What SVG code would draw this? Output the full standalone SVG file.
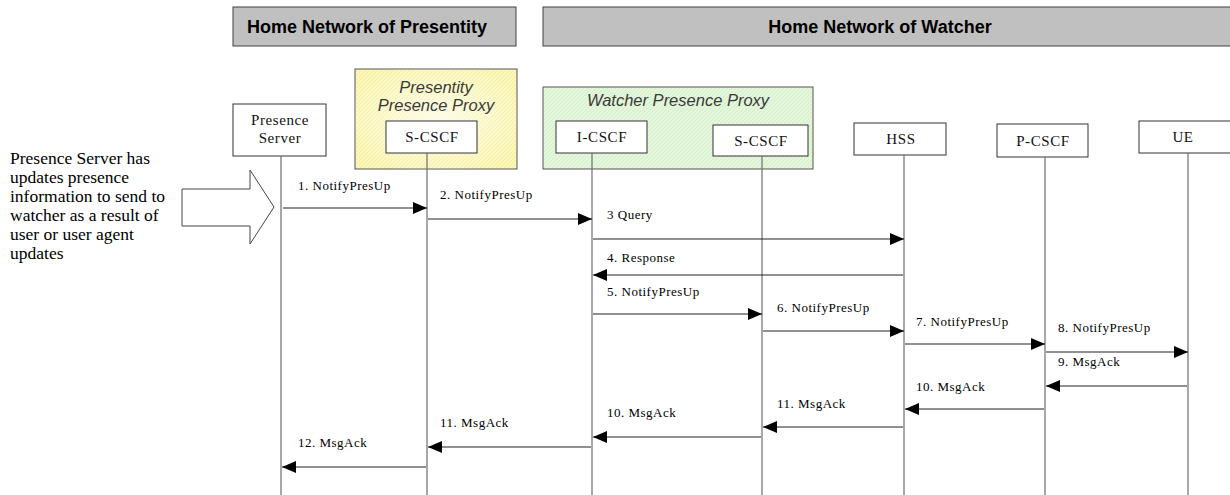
<svg xmlns="http://www.w3.org/2000/svg" width="1230" height="495" viewBox="0 0 1230 495">
  <style>
    .bar { fill: #c0c0c0; stroke: #404040; stroke-width: 1; }
    .barText { font-family: "Liberation Sans", Arial, sans-serif; font-size: 18px; font-weight: bold; fill: #000; }
    .proxyText { font-family: "Liberation Sans", Arial, sans-serif; font-size: 16.5px; font-style: italic; fill: #3a3a3a; }
    .ent { fill: #fff; stroke: #333; stroke-width: 1; }
    .entText { font-family: "Liberation Serif", "Times New Roman", serif; font-size: 15px; letter-spacing: 0.6px; fill: #111; text-anchor: middle; }
    .life { stroke: #6e6e6e; stroke-width: 1.2; fill: none; }
    .msg { stroke: #222; stroke-width: 1.2; fill: none; marker-end: url(#head); }
    .lbl { font-family: "Liberation Serif", "Times New Roman", serif; font-size: 13px; letter-spacing: 0.5px; fill: #000; }
    .note { font-family: "Liberation Serif", "Times New Roman", serif; font-size: 17.5px; fill: #000; }
  </style>
  <defs>
    <marker id="head" viewBox="0 0 14 12" refX="14" refY="6" markerWidth="14" markerHeight="12" markerUnits="userSpaceOnUse" orient="auto">
      <path d="M0,0 L14,6 L0,12 Z" fill="#000"/>
    </marker>
    <pattern id="hatchY" width="4" height="4" patternUnits="userSpaceOnUse">
      <rect width="4" height="4" fill="#fbf7b8"/>
      <path d="M0,4 L4,0" stroke="#f2eda0" stroke-width="1"/>
    </pattern>
    <radialGradient id="glowY" cx="0.5" cy="0.5" r="0.6">
      <stop offset="0" stop-color="#ffffff" stop-opacity="0.7"/>
      <stop offset="1" stop-color="#ffffff" stop-opacity="0"/>
    </radialGradient>
    <pattern id="hatchG" width="4" height="4" patternUnits="userSpaceOnUse">
      <rect width="4" height="4" fill="#e4f7dc"/>
      <path d="M0,4 L4,0" stroke="#d3efc8" stroke-width="1"/>
    </pattern>
  </defs>

  <!-- network domain headers -->
  <g id="hdr-presentity">
    <rect class="bar" x="233" y="7" width="283" height="39"/>
    <text class="barText" x="247" y="33">Home Network of Presentity</text>
  </g>
  <g id="hdr-watcher">
    <rect class="bar" x="543" y="7" width="700" height="39"/>
    <text class="barText" x="880" y="33" text-anchor="middle">Home Network of Watcher</text>
  </g>

  <!-- proxy groupings -->
  <g id="proxy-presentity">
    <rect x="355" y="69" width="162" height="100" fill="url(#hatchY)" stroke="#555"/>
    <rect x="355" y="69" width="162" height="100" fill="url(#glowY)" stroke="none"/>
    <text class="proxyText" x="436" y="93" text-anchor="middle">Presentity</text>
    <text class="proxyText" x="436" y="111" text-anchor="middle">Presence Proxy</text>
  </g>
  <g id="proxy-watcher">
    <rect x="543" y="87" width="270" height="82" fill="url(#hatchG)" stroke="#555"/>
    <text class="proxyText" x="678" y="106" text-anchor="middle">Watcher Presence Proxy</text>
  </g>

  <!-- triggering note -->
  <g id="trigger">
    <text class="note" x="10" y="164">Presence Server has</text>
    <text class="note" x="10" y="183">updates presence</text>
    <text class="note" x="10" y="202">information to send to</text>
    <text class="note" x="10" y="221">watcher as a result of</text>
    <text class="note" x="10" y="240">user or user agent</text>
    <text class="note" x="10" y="259">updates</text>
    <path d="M182,189 L250,189 L250,170 L274,207 L250,244 L250,226 L182,226 Z" fill="#fff" stroke="#444" stroke-width="1"/>
  </g>

  <!-- entities -->
  <g id="presence-server">
    <rect class="ent" x="233" y="104" width="93" height="52"/>
    <text class="entText" x="280" y="125">Presence</text>
    <text class="entText" x="280" y="143">Server</text>
  </g>
  <g id="p-scscf">
    <rect class="ent" x="386" y="121" width="91" height="32"/>
    <text class="entText" x="432" y="142">S-CSCF</text>
  </g>
  <g id="icscf">
    <rect class="ent" x="556" y="121" width="91" height="32"/>
    <text class="entText" x="602" y="142">I-CSCF</text>
  </g>
  <g id="w-scscf">
    <rect class="ent" x="713" y="125" width="95" height="31"/>
    <text class="entText" x="761" y="146">S-CSCF</text>
  </g>
  <g id="hss">
    <rect class="ent" x="854" y="123" width="92" height="32"/>
    <text class="entText" x="901" y="144">HSS</text>
  </g>
  <g id="pcscf">
    <rect class="ent" x="997" y="124" width="91" height="33"/>
    <text class="entText" x="1043" y="146">P-CSCF</text>
  </g>
  <g id="ue">
    <rect class="ent" x="1139" y="121" width="95" height="32"/>
    <text class="entText" x="1183" y="142">UE</text>
  </g>

  <!-- lifelines and messages -->
  <g id="connectors">
    <line class="life" x1="281" y1="156" x2="281" y2="495"/>
    <line class="life" x1="427" y1="153" x2="427" y2="495"/>
    <line class="life" x1="592" y1="153" x2="592" y2="495"/>
    <line class="life" x1="762" y1="156" x2="762" y2="495"/>
    <line class="life" x1="904" y1="155" x2="904" y2="495"/>
    <line class="life" x1="1045" y1="157" x2="1045" y2="495"/>
    <line class="life" x1="1188" y1="153" x2="1188" y2="495"/>

    <line class="msg" x1="283" y1="208" x2="427" y2="208"/>
    <text class="lbl" x="298" y="190">1. NotifyPresUp</text>

    <line class="msg" x1="428" y1="219" x2="592" y2="219"/>
    <text class="lbl" x="440" y="199">2. NotifyPresUp</text>

    <line class="msg" x1="593" y1="239" x2="904" y2="239"/>
    <text class="lbl" x="607" y="219">3 Query</text>

    <line class="msg" x1="903" y1="275" x2="593" y2="275"/>
    <text class="lbl" x="607" y="262">4. Response</text>

    <line class="msg" x1="593" y1="314" x2="762" y2="314"/>
    <text class="lbl" x="607" y="296">5. NotifyPresUp</text>

    <line class="msg" x1="763" y1="331" x2="904" y2="331"/>
    <text class="lbl" x="777" y="312">6. NotifyPresUp</text>

    <line class="msg" x1="905" y1="344" x2="1045" y2="344"/>
    <text class="lbl" x="916" y="326">7. NotifyPresUp</text>

    <line class="msg" x1="1046" y1="352" x2="1188" y2="352"/>
    <text class="lbl" x="1058" y="332">8. NotifyPresUp</text>

    <line class="msg" x1="1187" y1="386" x2="1046" y2="386"/>
    <text class="lbl" x="1058" y="366">9. MsgAck</text>

    <line class="msg" x1="1044" y1="409" x2="905" y2="409"/>
    <text class="lbl" x="916" y="391">10. MsgAck</text>

    <line class="msg" x1="903" y1="427" x2="763" y2="427"/>
    <text class="lbl" x="777" y="408">11. MsgAck</text>

    <line class="msg" x1="761" y1="437" x2="593" y2="437"/>
    <text class="lbl" x="607" y="417">10. MsgAck</text>

    <line class="msg" x1="591" y1="447" x2="428" y2="447"/>
    <text class="lbl" x="440" y="427">11. MsgAck</text>

    <line class="msg" x1="426" y1="467" x2="282" y2="467"/>
    <text class="lbl" x="298" y="447">12. MsgAck</text>
  </g>
</svg>
